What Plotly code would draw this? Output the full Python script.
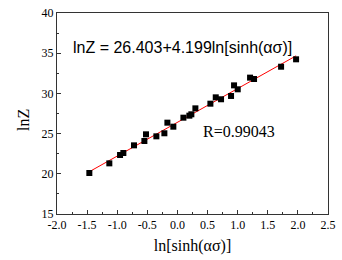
import plotly.graph_objects as go

x_vals = [-1.463, -1.131, -0.953, -0.898, -0.721, -0.549, -0.522, -0.350, -0.217, -0.167,
          -0.068, 0.099, 0.198, 0.231, 0.298, 0.547, 0.636, 0.724, 0.890, 0.940,
          1.001, 1.206, 1.272, 1.721, 1.970]
y_vals = [20.10, 21.30, 22.34, 22.59, 23.54, 24.08, 24.91, 24.66, 25.04, 26.36,
          25.86, 26.98, 27.23, 27.40, 28.14, 28.72, 29.51, 29.27, 29.68, 31.00,
          30.51, 31.96, 31.79, 33.32, 34.24]
intercept = 26.403
slope = 4.199
x_tickvals = [-2.0, -1.5, -1.0, -0.5, 0.0, 0.5, 1.0, 1.5, 2.0, 2.5]
x_ticktext = ["-2.0", "-1.5", "-1.0", "-0.5", "0.0", "0.5", "1.0", "1.5", "2.0", "2.5"]
y_tickvals = [15, 20, 25, 30, 35, 40]

fit_x = [min(x_vals), max(x_vals)]
fit_y = [intercept + slope * v for v in fit_x]

fig = go.Figure()
fig.add_trace(go.Scatter(x=fit_x, y=fit_y, mode="lines",
                         line=dict(color="#ff0000", width=1), showlegend=False))
fig.add_trace(go.Scatter(x=x_vals, y=y_vals, mode="markers",
                         marker=dict(symbol="square", size=6, color="black"),
                         showlegend=False))

axis_common = dict(showline=True, linecolor="#333333", linewidth=1, mirror=True,
                   ticks="inside", ticklen=4, tickcolor="#333333", showgrid=False,
                   zeroline=False, automargin=False, ticklabeloverflow="allow",
                   tickfont=dict(family="Liberation Serif", size=12, color="black"))
fig.update_xaxes(range=[-2.0, 2.5], tickvals=x_tickvals, ticktext=x_ticktext,
                 minor=dict(dtick=0.25, ticks="inside", ticklen=2, tickcolor="#333333"),
                 title=dict(text="ln[sinh(ασ)]", standoff=8,
                            font=dict(family="Liberation Serif", size=16, color="black")),
                 **axis_common)
fig.update_yaxes(range=[15, 40], tickvals=y_tickvals,
                 minor=dict(dtick=2.5, ticks="inside", ticklen=2, tickcolor="#333333"),
                 **axis_common)

fig.add_annotation(x=23, y=120, xref="paper", yref="paper", text="lnZ", showarrow=False,
                   textangle=-90, xanchor="center", yanchor="middle",
                   font=dict(family="Liberation Serif", size=16, color="black"))
fig.add_annotation(x=0.05, y=35.65, xref="paper", yref="y", xanchor="left", yanchor="middle",
                   text="lnZ = 26.403+4.199ln[sinh(ασ)]", showarrow=False,
                   font=dict(family="Liberation Sans", size=16, color="black"))
fig.add_annotation(x=0.531, y=25.3, xref="paper", yref="y", xanchor="left", yanchor="middle",
                   text="R=0.99043", showarrow=False,
                   font=dict(family="Liberation Serif", size=16, color="black"))

# convert the y-title annotation from pixel position to paper coords
W, H, L, R, T, B = 342, 260, 57, 14, 13, 46
pw, ph = W - L - R, H - T - B
fig.layout.annotations[0].x = (23 - L) / pw
fig.layout.annotations[0].y = (H - B - 120) / ph

fig.update_layout(width=W, height=H, margin=dict(l=L, r=R, t=T, b=B),
                  plot_bgcolor="white", paper_bgcolor="white")
fig.write_html("out.html", config={"displayModeBar": False},
               post_script="document.body.style.margin='0';document.body.style.overflow='hidden';")
